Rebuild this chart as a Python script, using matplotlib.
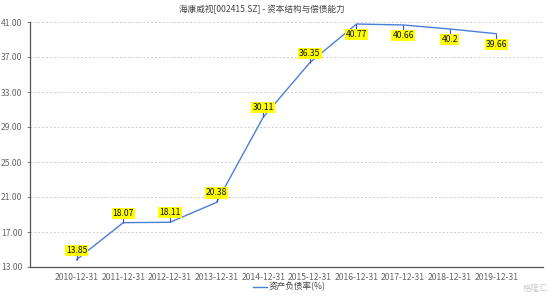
import matplotlib
matplotlib.use("Agg")
import matplotlib.pyplot as plt
from matplotlib.path import Path
from matplotlib.markers import MarkerStyle

plt.rcParams['font.family'] = ['Noto Sans CJK SC', 'DejaVu Sans']

categories = ["2010-12-31", "2011-12-31", "2012-12-31", "2013-12-31", "2014-12-31",
              "2015-12-31", "2016-12-31", "2017-12-31", "2018-12-31", "2019-12-31"]
values = [13.85, 18.07, 18.11, 20.38, 30.11, 36.35, 40.77, 40.66, 40.2, 39.66]
value_labels = ["13.85", "18.07", "18.11", "20.38", "30.11", "36.35", "40.77", "40.66", "40.2", "39.66"]
yticks = [13, 17, 21, 25, 29, 33, 37, 41]
title = "海康威视[002415.SZ] - 资本结构与偿债能力"
series_name = "资产负债率(%)"

W, H = 554, 298
fig = plt.figure(figsize=(W / 100, H / 100), dpi=100)
ax = fig.add_axes([30 / W, 1 - 267 / H, (543 - 30) / W, (267 - 22) / H])

line_color = "#4a7fd6"
x = list(range(len(categories)))
ax.plot(x, values, color=line_color, lw=1.0, zorder=3)

up = MarkerStyle(Path([(0, 0), (0, 1)]))
down = MarkerStyle(Path([(0, 0), (0, -1)]))
for xi, v, lab in zip(x, values, value_labels):
    below = v >= 39
    ax.plot([xi], [v], marker=down if below else up, ms=7, mew=0.8,
            color="#3050e0", zorder=4, linestyle="none")
    off = -7.5 if below else 6.8
    ax.annotate(lab, (xi, v), xytext=(0, off), textcoords="offset points",
                ha="center", va="center", fontsize=6.2, color="#111111",
                bbox=dict(boxstyle="square,pad=0.12", fc="#ffff00", ec="none"),
                zorder=5)

ax.set_xlim(-1, 10)
ax.set_ylim(13, 41)
ax.set_yticks(yticks)
ax.set_yticklabels([f"{t:.2f}" for t in yticks])
ax.set_xticks(x)
ax.set_xticklabels(categories)
ax.tick_params(axis='both', labelsize=6.2, colors="#666666", length=2, width=0.6)
ax.tick_params(axis='x', length=0, pad=4)
ax.grid(axis='y', linestyle=(0, (2, 2)), color="#d0d0d0", lw=0.7)
ax.set_axisbelow(True)
for s in ['top', 'right']:
    ax.spines[s].set_visible(False)
for s in ['left', 'bottom']:
    ax.spines[s].set_color("#555555")
    ax.spines[s].set_linewidth(0.9)

fig.text(262 / W, 1 - 9 / H, title, ha="center", va="center", fontsize=6.2, color="#444444")

# legend
fig.add_artist(plt.Line2D([253 / W, 267 / W], [1 - 287 / H, 1 - 287 / H], color=line_color, lw=1.0))
fig.text(269 / W, 1 - 287 / H, series_name, ha="left", va="center", fontsize=6.2, color="#444444")

# watermark
fig.text(548 / W, 1 - 288 / H, "格隆汇", ha="right", va="center", fontsize=6, color="#cccccc")

fig.savefig("out.png", dpi=100)
